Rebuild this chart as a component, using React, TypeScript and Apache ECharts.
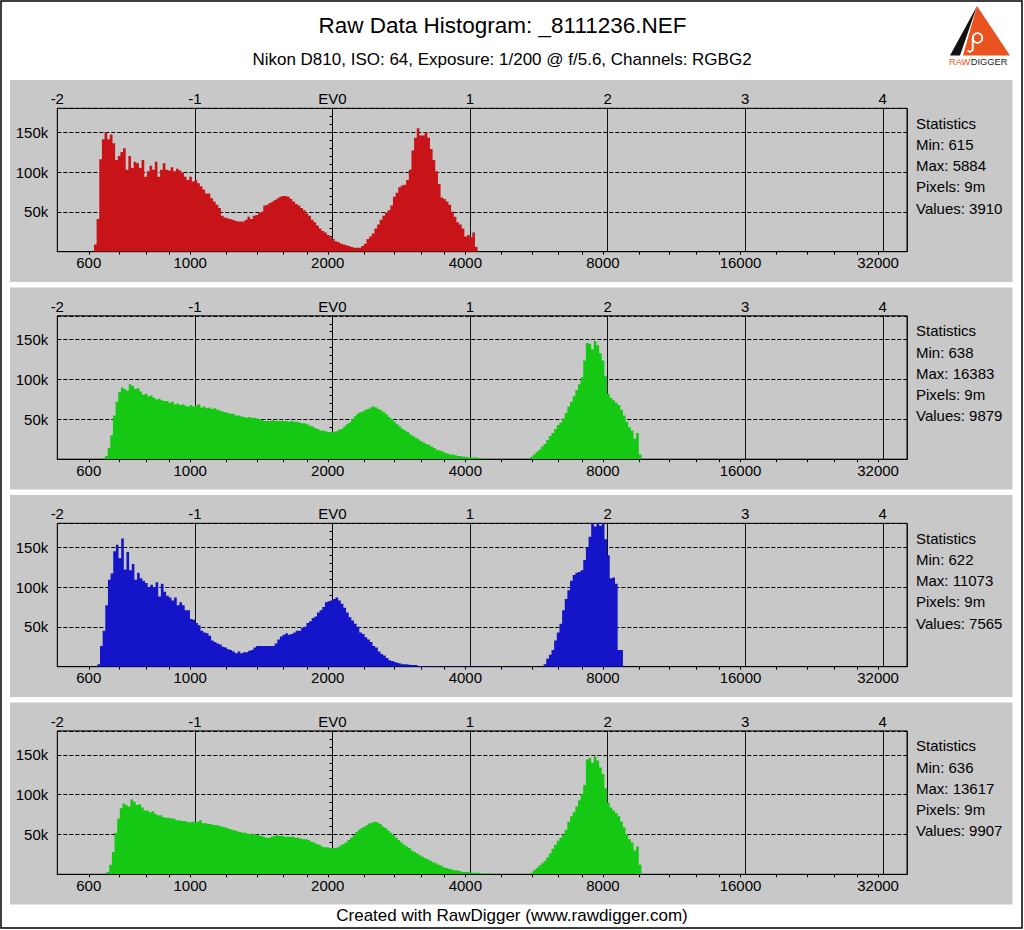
import React, { useEffect, useRef } from 'react';
import * as echarts from 'echarts';

const FONT = '"Liberation Sans", Arial, sans-serif';

const TITLE = 'Raw Data Histogram: _8111236.NEF';
const SUBTITLE = 'Nikon D810, ISO: 64, Exposure: 1/200 @ f/5.6, Channels: RGBG2';
const FOOTER = 'Created with RawDigger (www.rawdigger.com)';

// EV scale: EV0 corresponds to raw value 2048
const EV0_VALUE = 2048;
const EV_MIN = -2;
const EV_MAX = 4.176;
const BIN = 1 / 52; // histogram bin width in EV
const Y_MAX = 180000;

const BOTTOM_LABELS = [600, 1000, 2000, 4000, 8000, 16000, 32000];
const BOTTOM_TICKS = [600, 700, 800, 900, 1000, 1200, 1400, 1600, 1800, 2000, 2400, 2800, 3200, 3600, 4000,
  4800, 5600, 6400, 7200, 8000, 9600, 11200, 12800, 14400, 16000, 19200, 22400, 25600, 28800, 32000];
const Y_MINOR = [10000, 20000, 30000, 40000, 60000, 70000, 80000, 90000, 110000, 120000, 130000, 140000, 160000, 170000];

const CHANNEL_COLORS = ['#c81418', '#14c814', '#1414c8', '#14c814'];
const STAT_MIN = [615, 638, 622, 636];
const STAT_MAX = [5884, 16383, 11073, 13617];
const STAT_PIXELS = ['9m', '9m', '9m', '9m'];
const STAT_VALUES = [3910, 9879, 7565, 9907];

// counts in thousands, one value per bin, starting at the given EV
const RED_START = -1.7335;
const RED = [9, 41, 116, 141, 150, 141, 147, 136, 115, 120, 125, 130, 103, 120, 105, 113, 111, 105, 115, 94,
  101, 108, 103, 113, 94, 103, 111, 103, 102, 106, 101, 104, 102, 99, 94, 90, 94, 88, 90, 86,
  82, 78, 73, 73, 67, 63, 59, 55, 45, 43, 42, 41, 40, 39, 38, 38, 38, 40, 44, 41,
  45, 46, 49, 50, 58, 59, 61, 63, 65, 67, 69, 70, 70, 69, 66, 63, 60, 58, 55, 52,
  48, 45, 40, 37, 33, 29, 26, 24, 21, 18, 16, 13, 12, 10, 9, 8, 7, 6, 5, 5,
  5, 7, 10, 16, 19, 23, 29, 34, 40, 45, 49, 52, 58, 69, 74, 81, 83, 84, 90, 103,
  127, 143, 155, 146, 146, 150, 143, 129, 115, 101, 85, 68, 66, 63, 59, 50, 44, 37, 34, 29,
  19, 21, 18, 24, 6];

const GREEN_START = -1.6725;
const GREEN = [1, 4, 14, 30, 55, 72, 84, 90, 88, 86, 94, 92, 88, 89, 85, 81, 82, 79, 80, 77,
  75, 76, 74, 73, 73, 71, 72, 69, 70, 68, 69, 67, 66, 68, 66, 67, 69, 65, 66, 64,
  65, 63, 64, 62, 61, 60, 59, 58, 57, 57, 55, 55, 54, 53, 52, 53, 52, 52, 51, 50,
  49, 48, 48, 48, 49, 48, 48, 48, 48, 48, 47, 48, 47, 47, 46, 45, 45, 44, 42, 41,
  39, 38, 36, 36, 35, 34, 34, 34, 35, 37, 38, 41, 44, 46, 50, 54, 57, 59, 60, 62,
  63, 65, 66, 65, 63, 61, 59, 56, 53, 50, 47, 44, 41, 38, 36, 34, 31, 29, 27, 25,
  23, 21, 19, 18, 16, 14, 12, 11, 10, 8, 7, 6, 6, 5, 4, 4, 3, 3, 2, 2,
  2, 2, 1, 1, 1];
const GREEN_PEAK_START = 1.438;
const GREEN_PEAK = [3, 6, 9, 12, 16, 19, 24, 29, 33, 38, 43, 46, 51, 58, 66, 72, 79, 87, 94, 103,
  124, 146, 145, 138, 148, 143, 133, 124, 104, 82, 77, 74, 71, 68, 62, 55, 47, 40, 36, 26,
  33, 6];

const BLUE_START = -1.7088;
const BLUE = [3, 26, 45, 77, 109, 117, 145, 153, 136, 161, 122, 144, 121, 129, 109, 118, 111, 108, 105, 100,
  103, 100, 106, 88, 104, 94, 89, 87, 83, 87, 77, 81, 77, 71, 71, 60, 59, 55, 52, 45,
  43, 42, 39, 33, 31, 29, 28, 25, 24, 22, 21, 19, 17, 19, 17, 18, 18, 20, 21, 24,
  26, 26, 26, 26, 26, 26, 26, 29, 34, 38, 40, 42, 40, 41, 43, 45, 45, 49, 50, 55,
  57, 61, 63, 68, 71, 75, 81, 82, 83, 85, 87, 83, 79, 74, 68, 62, 58, 54, 50, 43,
  41, 37, 34, 31, 26, 24, 19, 16, 14, 11, 8, 7, 6, 5, 4, 3, 3, 2.5, 2, 2,
  2, 1, 1, 1, 1, 0.5];
const BLUE_PEAK_START = 1.5345;
const BLUE_PEAK = [3, 10, 15, 21, 33, 43, 54, 71, 85, 96, 108, 115, 118, 119, 121, 134, 150, 163, 185, 176,
  185, 177, 183, 160, 140, 111, 112, 104, 21, 21];

const GREEN2_START = -1.661;
const GREEN2 = [1, 3, 12, 28, 52, 70, 83, 89, 87, 85, 94, 91, 87, 88, 84, 80, 80, 78, 79, 76,
  74, 74, 72, 71, 71, 70, 70, 68, 68, 67, 67, 66, 65, 66, 65, 66, 68, 64, 64, 63,
  63, 62, 62, 61, 60, 59, 58, 57, 56, 55, 54, 53, 52, 52, 51, 51, 50, 50, 49, 48,
  47, 46, 46, 47, 48, 49, 48, 48, 47, 47, 47, 47, 46, 46, 45, 44, 44, 43, 41, 40,
  38, 37, 35, 34, 34, 33, 33, 33, 34, 36, 38, 40, 43, 46, 49, 53, 56, 58, 60, 62,
  64, 65, 66, 65, 63, 60, 58, 55, 52, 49, 46, 43, 40, 37, 35, 33, 30, 28, 26, 24,
  22, 20, 19, 17, 15, 14, 12, 11, 9, 8, 7, 6, 5, 5, 4, 3, 3, 3, 2, 2,
  2, 2, 1, 1, 1, 1, 1];
const GREEN2_PEAK_START = 1.438;
const GREEN2_PEAK = [2, 5, 8, 11, 14, 17, 21, 26, 32, 37, 42, 46, 50, 56, 66, 73, 78, 85, 93, 101,
  112, 144, 146, 140, 148, 143, 134, 126, 108, 90, 84, 80, 77, 73, 66, 59, 50, 44, 40, 30,
  35, 12];

const CHANNEL_SEGMENTS: [number, number[]][][] = [
  [[RED_START, RED]],
  [[GREEN_START, GREEN], [GREEN_PEAK_START, GREEN_PEAK]],
  [[BLUE_START, BLUE], [BLUE_PEAK_START, BLUE_PEAK]],
  [[GREEN2_START, GREEN2], [GREEN2_PEAK_START, GREEN2_PEAK]],
];

// layout
const PLOT_TOPS = [108.3, 315.8, 523.3, 730.9];
const PLOT_H = 143.4;
const GRID_LEFT = 57.3;
const GRID_W = 849.7;

const toEV = (v: number) => Math.log2(v / EV0_VALUE);

function histPoints(segments: [number, number[]][]) {
  const pts: number[][] = [];
  for (const [start, vals] of segments) {
    vals.forEach((v, i) => pts.push([start + i * BIN, v * 1000]));
    pts.push([start + vals.length * BIN, 0]);
  }
  return pts;
}

export default function App() {
  const ref = useRef<HTMLDivElement>(null);

  useEffect(() => {
    document.body.style.margin = '0';
    if (!ref.current) return;
    const chart = echarts.init(ref.current, undefined, { renderer: 'svg' });

    const labelStyle = { color: '#000', fontSize: 15, fontFamily: FONT };
    const grids: any[] = [];
    const xAxes: any[] = [];
    const yAxes: any[] = [];
    const series: any[] = [];
    const graphics: any[] = [];

    graphics.push({
      type: 'rect', z: -20, shape: { x: 0, y: 0, width: 1024, height: 930 },
      style: { fill: '#fff' },
    });
    graphics.push({
      type: 'rect', z: 50, shape: { x: 1, y: 1, width: 1021, height: 927 },
      style: { fill: 'none', stroke: '#000', lineWidth: 1.5 },
    });

    PLOT_TOPS.forEach((top, i) => {
      graphics.push({
        type: 'rect', z: -10,
        shape: { x: 10, y: top - 28.3, width: 1002.5, height: PLOT_H + 58.6 },
        style: { fill: '#c8c8c8' },
      });
      grids.push({
        left: GRID_LEFT, top, width: GRID_W, height: PLOT_H,
        show: true, borderColor: '#000', borderWidth: 1, backgroundColor: 'transparent',
        containLabel: false, outerBoundsMode: 'none',
      });
      xAxes.push({
        type: 'value', gridIndex: i, position: 'top', min: EV_MIN, max: EV_MAX, interval: 1,
        axisLine: { show: true, lineStyle: { color: '#000', width: 1 } },
        axisTick: { show: false },
        axisLabel: {
          ...labelStyle, margin: 2, showMaxLabel: false,
          formatter: (v: number) => {
            const r = Math.round(v);
            if (Math.abs(v - r) > 1e-6) return '';
            return r === 0 ? 'EV0' : String(r);
          },
        },
        splitLine: { show: true, lineStyle: { color: '#111', width: 1, type: 'solid' } },
      });
      xAxes.push({
        type: 'value', gridIndex: i, position: 'bottom', min: EV_MIN, max: EV_MAX,
        axisLine: { show: true, lineStyle: { color: '#000', width: 1 } },
        axisTick: { show: true, customValues: BOTTOM_TICKS.map(toEV), length: 3, lineStyle: { color: '#000' } },
        axisLabel: {
          ...labelStyle, margin: 3.5, customValues: BOTTOM_LABELS.map(toEV),
          formatter: (v: number) => String(Math.round(EV0_VALUE * Math.pow(2, v))),
        },
        splitLine: { show: false },
      });
      yAxes.push({
        type: 'value', gridIndex: i, position: 'left', min: 0, max: Y_MAX, interval: 50000,
        axisLine: { show: true, lineStyle: { color: '#000', width: 1 } },
        axisTick: { show: true, length: 5, lineStyle: { color: '#000' } },
        axisLabel: {
          ...labelStyle, margin: 9, showMinLabel: false, showMaxLabel: false,
          formatter: (v: number) => (v > 0 && v <= 150000 && v % 50000 === 0 ? v / 1000 + 'k' : ''),
        },
        splitLine: { show: true, lineStyle: { color: '#000', width: 1, type: [4, 2] } },
      });
      yAxes.push({
        type: 'value', gridIndex: i, position: 'left', min: 0, max: Y_MAX,
        axisLine: { show: false },
        axisTick: { show: true, customValues: Y_MINOR, length: 3, lineStyle: { color: '#000' } },
        axisLabel: { show: false },
        splitLine: { show: false },
      });
      series.push({
        type: 'line', xAxisIndex: 2 * i + 1, yAxisIndex: 2 * i,
        data: histPoints(CHANNEL_SEGMENTS[i]),
        step: 'end', symbol: 'none', showSymbol: false, silent: true, clip: true,
        lineStyle: { width: 0, color: CHANNEL_COLORS[i] },
        itemStyle: { color: CHANNEL_COLORS[i] },
        areaStyle: { color: CHANNEL_COLORS[i], opacity: 1 },
        z: 3,
      });

      const statLines = ['Statistics', `Min: ${STAT_MIN[i]}`, `Max: ${STAT_MAX[i]}`,
        `Pixels: ${STAT_PIXELS[i]}`, `Values: ${STAT_VALUES[i]}`];
      statLines.forEach((t, k) => {
        graphics.push({
          type: 'text', z: 10, x: 916, y: top + 15 + k * 21.2,
          style: {
            text: t, fill: '#000', fontSize: 15, fontFamily: FONT,
            textAlign: 'left', align: 'left', textVerticalAlign: 'middle', verticalAlign: 'middle',
          },
        });
      });
    });

    const centerText = (text: string, x: number, y: number, size: number) => ({
      type: 'text', z: 10, x, y,
      style: {
        text, fill: '#000', fontSize: size, fontFamily: FONT,
        textAlign: 'center', align: 'center', textVerticalAlign: 'middle', verticalAlign: 'middle',
      },
    });
    graphics.push(centerText(TITLE, 502.5, 25, 22.5));
    graphics.push(centerText(SUBTITLE, 502, 59, 17));
    graphics.push(centerText(FOOTER, 512, 915, 17));

    // RawDigger logo
    graphics.push({
      type: 'polygon', z: 10, shape: { points: [[977, 6], [950, 55.5], [960, 55.5]] },
      style: { fill: '#111' },
    });
    graphics.push({
      type: 'polygon', z: 10, shape: { points: [[977, 6], [963, 55.5], [1010, 55.5]] },
      style: { fill: '#ea5320' },
    });
    graphics.push({
      type: 'circle', z: 11, shape: { cx: 977.5, cy: 38, r: 4.8 },
      style: { fill: 'none', stroke: '#fff', lineWidth: 1.8 },
    });
    graphics.push({
      type: 'polyline', z: 11, shape: { points: [[972.7, 38], [972.7, 50], [970, 52], [967.5, 50.5]] },
      style: { fill: 'none', stroke: '#fff', lineWidth: 1.8 },
    });
    graphics.push({
      type: 'text', z: 11, x: 949, y: 62,
      style: { text: 'RAW', fill: '#ea5320', fontSize: 9.3, fontFamily: FONT, align: 'left', textAlign: 'left', verticalAlign: 'middle', textVerticalAlign: 'middle' },
    });
    graphics.push({
      type: 'text', z: 11, x: 970.7, y: 62,
      style: { text: 'DIGGER', fill: '#222', fontSize: 9.3, fontFamily: FONT, align: 'left', textAlign: 'left', verticalAlign: 'middle', textVerticalAlign: 'middle' },
    });

    chart.setOption({
      animation: false,
      backgroundColor: '#fff',
      grid: grids,
      xAxis: xAxes,
      yAxis: yAxes,
      series,
      graphic: { elements: graphics },
    });

    return () => chart.dispose();
  }, []);

  return <div ref={ref} style={{ width: 1024, height: 930 }} />;
}
